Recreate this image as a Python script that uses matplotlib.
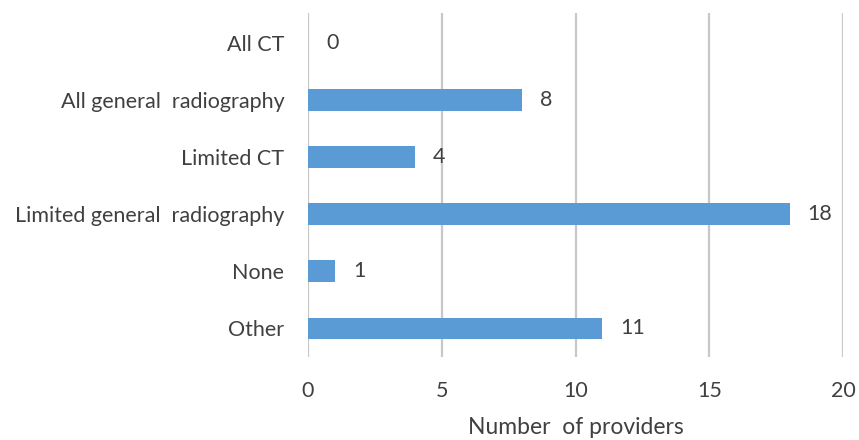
import matplotlib
matplotlib.use("Agg")
import matplotlib.pyplot as plt

categories = ["All CT", "All general  radiography", "Limited CT",
              "Limited general  radiography", "None", "Other"]
values = [0, 8, 4, 18, 1, 11]
xticks = [0, 5, 10, 15, 20]

plt.rcParams['font.family'] = ['Lato', 'DejaVu Sans']
txt = '#404040'
fs = 15.5
fig = plt.figure(figsize=(8.59, 4.40), dpi=100)
ax = fig.add_axes([308/859, 1-357/440, (843-308)/859, (357-13)/440])

y = list(range(len(categories)))
ax.barh(y, values, height=0.38, color='#5B9BD5', zorder=3)
ax.set_ylim(5.5, -0.52)
ax.set_xlim(0, 20)
ax.set_xticks(xticks)
ax.set_yticks(y)
ax.set_yticklabels(categories)
ax.xaxis.grid(True, color='#C8C8C8', linewidth=1.6, zorder=0)
for s in ax.spines.values():
    s.set_visible(False)
ax.tick_params(axis='both', length=0, labelsize=fs, colors=txt)
ax.tick_params(axis='x', pad=17)
ax.tick_params(axis='y', pad=17)
for yi, v in zip(y, values):
    ax.annotate(str(v), (v, yi), xytext=(13, 0), textcoords='offset points',
                ha='left', va='center', fontsize=fs, color=txt)
ax.set_xlabel("Number  of providers", fontsize=fs + 1, color=txt, labelpad=12)
fig.savefig("out.png", dpi=100)
